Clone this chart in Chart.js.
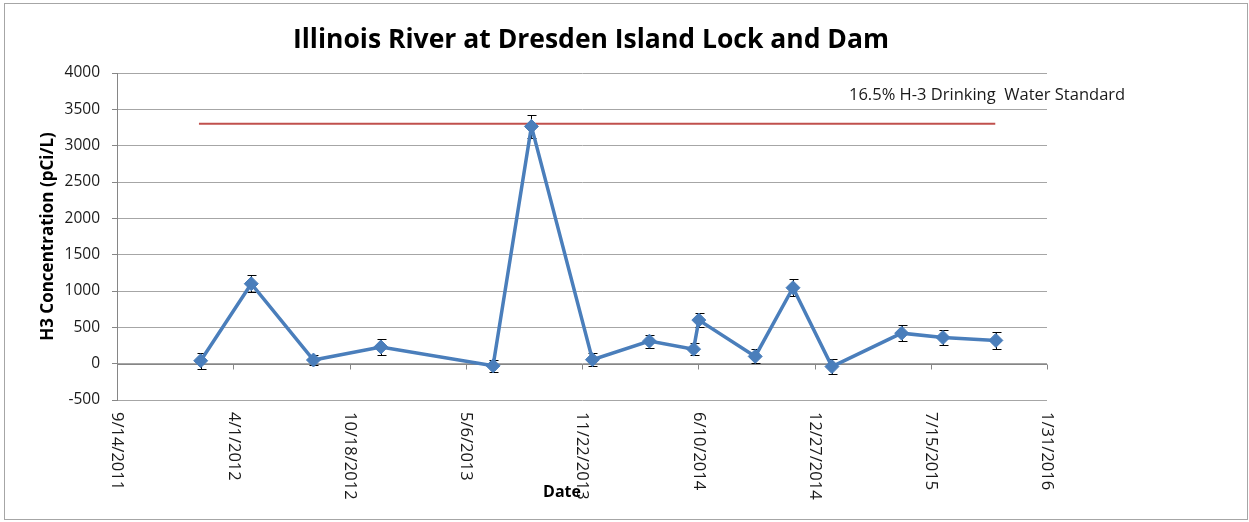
<!DOCTYPE html>
<html>
<head>
<meta charset="utf-8">
<script src="https://cdn.jsdelivr.net/npm/chart.js@4.4.1/dist/chart.umd.min.js"></script>
<style>
    body { margin: 0; background: #fff; }
    #wrap { position: relative; width: 1249px; height: 522px; }
    #frame { position: absolute; left: 4px; top: 3px; width: 1242px; height: 515px; border: 1px solid #a6a6a6; pointer-events: none; }
    canvas { position: absolute; left: 0; top: 0; }
</style>
</head>
<body>
<div id="wrap">
    <canvas id="riverChart" width="1249" height="522"></canvas>
    <div id="frame"></div>
</div>
<script>
// sample data
const sampleDates = ["2/5/2012", "5/2/2012", "8/17/2012", "12/11/2012", "6/22/2013", "8/27/2013",
    "12/10/2013", "3/18/2014", "6/2/2014", "6/11/2014", "9/16/2014", "11/20/2014",
    "1/26/2015", "5/26/2015", "8/5/2015", "11/4/2015"];
const h3Values = [40, 1100, 50, 230, -30, 3265, 55, 310, 200, 600, 100, 1045, -40, 420, 360, 320];
const h3Errors = [110, 115, 70, 110, 80, 160, 85, 90, 85, 100, 95, 115, 105, 110, 105, 115];

// drinking water standard line
const limitDates = ["2/2/2012", "11/3/2015"];
const limitValue = 3300;
const limitLabel = "16.5% H-3 Drinking  Water Standard";

// axis setup
const axisStart = "9/14/2011";
const axisEnd = "1/31/2016";
const xStepDays = 200;
const yMin = -500;
const yMax = 4000;
const yStep = 500;

const chartTitle = "Illinois River at Dresden Island Lock and Dam";
const yTitle = "H3 Concentration (pCi/L)";
const xTitle = "Date";

const DAY = 86400000;

function toUtc(str) {
    let p = str.split("/").map(Number);
    return Date.UTC(p[2], p[0] - 1, p[1]);
}

const startMs = toUtc(axisStart);

function dayNum(str) {
    return Math.round((toUtc(str) - startMs) / DAY);
}

function dayLabel(d) {
    let dt = new Date(startMs + d * DAY);
    return (dt.getUTCMonth() + 1) + "/" + dt.getUTCDate() + "/" + dt.getUTCFullYear();
}

const points = sampleDates.map((d, i) => ({ x: dayNum(d), y: h3Values[i] }));
const limitPoints = limitDates.map(d => ({ x: dayNum(d), y: limitValue }));

const FONT = "'Open Sans', 'DejaVu Sans', sans-serif";

// draws the bits Excel puts where Chart.js does not: axis at zero, rotated dates, error bars, texts
const excelBits = {
    id: "excelBits",
    beforeDatasetsDraw(chart) {
        const ctx = chart.ctx;
        const xs = chart.scales.x;
        const ys = chart.scales.y;
        const y0 = Math.round(ys.getPixelForValue(0)) + 0.5;
        ctx.save();
        ctx.strokeStyle = "#868686";
        ctx.lineWidth = 1;
        ctx.beginPath();
        ctx.moveTo(chart.chartArea.left, y0);
        ctx.lineTo(chart.chartArea.right, y0);
        xs.ticks.forEach(t => {
            let px = Math.round(xs.getPixelForValue(t.value)) + 0.5;
            ctx.moveTo(px, y0);
            ctx.lineTo(px, y0 + 5);
        });
        ctx.stroke();

        // error bars sit under the markers
        ctx.strokeStyle = "#000";
        ctx.beginPath();
        points.forEach((p, i) => {
            let px = Math.round(xs.getPixelForValue(p.x)) + 0.5;
            let top = Math.round(ys.getPixelForValue(p.y + h3Errors[i])) + 0.5;
            let bot = Math.round(ys.getPixelForValue(p.y - h3Errors[i])) + 0.5;
            ctx.moveTo(px, top);
            ctx.lineTo(px, bot);
            ctx.moveTo(px - 4, top);
            ctx.lineTo(px + 5, top);
            ctx.moveTo(px - 4, bot);
            ctx.lineTo(px + 5, bot);
        });
        ctx.stroke();
        ctx.restore();
    },
    afterDraw(chart) {
        const ctx = chart.ctx;
        const xs = chart.scales.x;
        const area = chart.chartArea;
        ctx.save();

        // rotated date labels, reading downwards
        ctx.fillStyle = "#1a1a1a";
        ctx.font = "16.5px " + FONT;
        ctx.textAlign = "left";
        ctx.textBaseline = "middle";
        xs.ticks.forEach(t => {
            let px = xs.getPixelForValue(t.value);
            ctx.save();
            ctx.translate(px, area.bottom + 12);
            ctx.rotate(Math.PI / 2);
            ctx.fillText(dayLabel(t.value), 0, 0);
            ctx.restore();
        });

        ctx.fillStyle = "#000";
        ctx.font = "bold 16px " + FONT;
        ctx.textAlign = "center";
        ctx.fillText(xTitle, 562, 492);

        ctx.font = "bold 26.5px " + FONT;
        ctx.fillText(chartTitle, 591, 40);

        ctx.fillStyle = "#1a1a1a";
        ctx.font = "16.5px " + FONT;
        ctx.textAlign = "left";
        ctx.fillText(limitLabel, 849, 95);

        ctx.restore();
    }
};

const ctx = document.getElementById("riverChart").getContext("2d");

new Chart(ctx, {
    type: "line",
    data: {
        datasets: [{
            label: "H3",
            data: points,
            borderColor: "#4a7ebb",
            backgroundColor: "#4a7ebb",
            borderWidth: 3.5,
            pointStyle: "rectRot",
            pointRadius: 7,
            pointBorderWidth: 1,
            tension: 0
        }, {
            label: "Standard",
            data: limitPoints,
            borderColor: "#c0504d",
            borderWidth: 2,
            pointRadius: 0,
            tension: 0
        }]
    },
    options: {
        responsive: false,
        animation: false,
        devicePixelRatio: 1,
        layout: {
            padding: { top: 73, right: 202, bottom: 0, left: 0 }
        },
        plugins: {
            legend: { display: false },
            tooltip: { enabled: false },
            title: { display: false }
        },
        scales: {
            x: {
                type: "linear",
                min: 0,
                max: dayNum(axisEnd),
                ticks: { display: false, stepSize: xStepDays },
                grid: { display: false },
                border: { display: false },
                afterFit: s => { s.height = 122; }
            },
            y: {
                min: yMin,
                max: yMax,
                ticks: {
                    stepSize: yStep,
                    padding: 12,
                    color: "#1a1a1a",
                    font: { family: FONT, size: 15.5 },
                    callback: v => String(v)
                },
                grid: { color: "#a6a6a6", tickLength: 5, tickColor: "#868686" },
                border: { color: "#868686" },
                title: {
                    display: true,
                    text: yTitle,
                    color: "#000",
                    padding: { top: 38 },
                    font: { family: FONT, size: 17, weight: "bold" }
                },
                afterFit: s => { s.width = 117; }
            }
        }
    },
    plugins: [excelBits]
});
</script>
</body>
</html>
